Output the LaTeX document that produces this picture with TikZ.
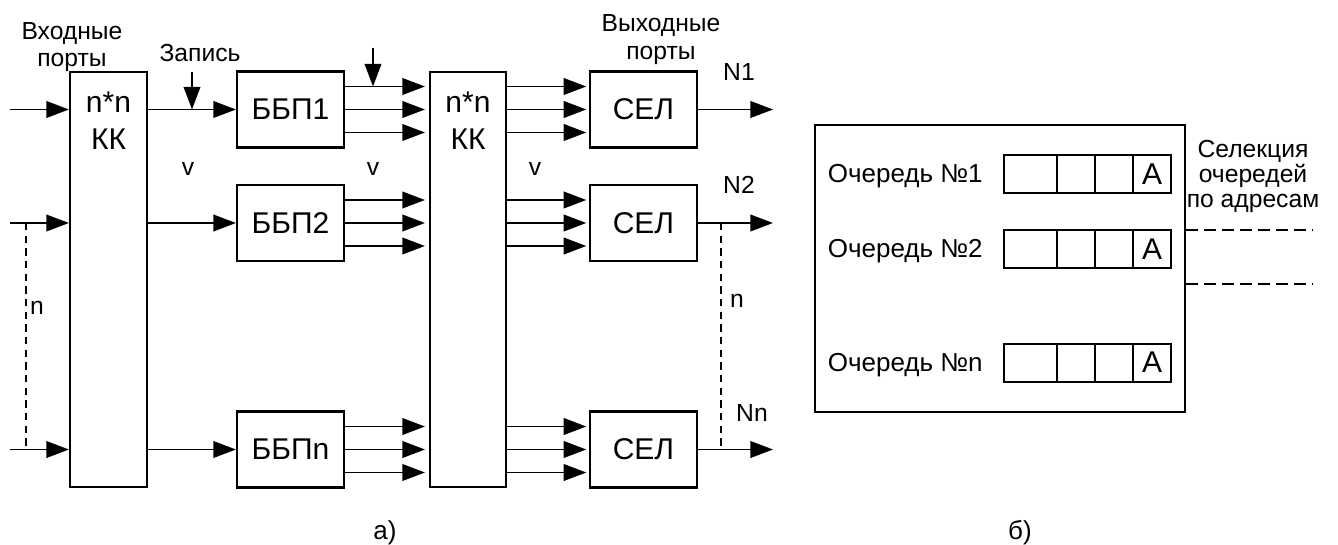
\documentclass[tikz,border=0pt]{standalone}
\usepackage{fontspec}
\setmainfont{Liberation Sans}
\usetikzlibrary{arrows.meta}
\begin{document}
\begin{tikzpicture}[x=0.75pt,y=-0.75pt,
  box/.style={draw, line width=1.6pt, inner sep=0pt, font=\fontsize{22.5}{27}\selectfont},
  arr/.style={line width=1.4pt, -{Triangle[length=17pt,width=12.5pt]}},
  lbl/.style={font=\fontsize{18.5}{22}\selectfont, inner sep=0pt, anchor=base},
  qlbl/.style={font=\fontsize{19.5}{22}\selectfont, inner sep=0pt, anchor=base east},
  big/.style={font=\fontsize{22.5}{27}\selectfont, inner sep=0pt, anchor=base},
  capt/.style={font=\fontsize{19.5}{23}\selectfont, inner sep=0pt, anchor=base},
  dshv/.style={line width=1.4pt, dash pattern=on 5.5pt off 4pt},
  dshh/.style={line width=1.4pt, dash pattern=on 9pt off 4.5pt},
  cell/.style={draw, line width=1.5pt, minimum height=28.5pt, minimum width=28.5pt,
    inner sep=0pt, outer sep=0pt, anchor=west, font=\fontsize{22.5}{27}\selectfont}]
\useasboundingbox (0,0) rectangle (1338,545);

% ---------- part a) ----------
\node[box, minimum width=57.75pt, minimum height=311.25pt] (kk1) at (108.5,279.5) {};
\node[box, minimum width=57pt, minimum height=311.25pt] (kk2) at (468,279.5) {};
\node[big] (kk1a) at (108.5,113) {n*n};
\node[big] (kk1b) at (108.5,150) {КК};
\node[big] (kk2a) at (468,113) {n*n};
\node[big] (kk2b) at (468,150) {КК};

\node[box, minimum width=80.25pt, minimum height=57pt] (bbp1) at (290.5,109.5) {ББП1};
\node[box, minimum width=80.25pt, minimum height=57pt] (bbp2) at (290.5,223) {ББП2};
\node[box, minimum width=80.25pt, minimum height=57pt] (bbpn) at (290.5,449.5) {ББПn};

\node[box, minimum width=80.25pt, minimum height=57pt] (sel1) at (643.5,109.5) {СЕЛ};
\node[box, minimum width=80.25pt, minimum height=57pt] (sel2) at (643.5,223) {СЕЛ};
\node[box, minimum width=80.25pt, minimum height=57pt] (seln) at (643.5,449.5) {СЕЛ};

% inputs
\coordinate (in1) at (10,109.5);
\coordinate (in2) at (10,223);
\coordinate (inn) at (10,449.5);
\draw[arr] (in1) -- (in1 -| kk1.west);
\draw[arr] (in2) -- (in2 -| kk1.west);
\draw[arr] (inn) -- (inn -| kk1.west);
\coordinate (dl1) at (26,223);
\coordinate (dl2) at (26,449.5);
\draw[dshv] (dl1) -- (dl2);

% KK1 -> BBP
\draw[arr] (bbp1.west -| kk1.east) -- (bbp1.west);
\draw[arr] (bbp2.west -| kk1.east) -- (bbp2.west);
\draw[arr] (bbpn.west -| kk1.east) -- (bbpn.west);

% BBP -> KK2 and KK2 -> SEL
\foreach \r in {bbp1,bbp2,bbpn}{
  \foreach \d in {17.25pt,0pt,-17.25pt}{
    \draw[arr, shorten >=3pt] ([yshift=\d]\r.east) -- ([yshift=\d]\r.east -| kk2.west);
  }
}
\foreach \r in {sel1,sel2,seln}{
  \foreach \d in {17.25pt,0pt,-17.25pt}{
    \draw[arr, shorten >=2pt] ([yshift=\d]\r.west -| kk2.east) -- ([yshift=\d]\r.west);
  }
}

% write arrows
\coordinate (w1) at (192,72);
\draw[arr] (w1) -- (w1 |- bbp1.west);
\coordinate (b1t) at ([yshift=17.25pt]bbp1.east);
\coordinate (w2) at (373,48);
\draw[arr] (w2) -- (w2 |- b1t);

% outputs
\coordinate (o1) at (773,109.5);
\coordinate (o2) at (773,223);
\coordinate (on) at (773,449.5);
\draw[arr] (sel1.east) -- (o1);
\draw[arr] (sel2.east) -- (o2);
\draw[arr] (seln.east) -- (on);
\coordinate (dr1) at (721,223);
\coordinate (dr2) at (721,449.5);
\draw[dshv] (dr1) -- (dr2);

% labels
\node[lbl] (t1) at (72,40) {Входные};
\node[lbl] (t2) at (72,67) {порты};
\node[lbl] (t3) at (200,62) {Запись};
\node[lbl] (t4) at (661,32) {Выходные};
\node[lbl] (t5) at (661,60) {порты};
\node[lbl] (n1) at (739,81) {N1};
\node[lbl] (n2) at (739,194) {N2};
\node[lbl] (nn) at (752,421) {Nn};
\node[lbl] (v1) at (188,176) {v};
\node[lbl] (v2) at (373,176) {v};
\node[lbl] (v3) at (535,176) {v};
\node[lbl] (nl) at (37,315) {n};
\node[lbl] (nr) at (737,307) {n};
\node[capt] (ca) at (385,539) {а)};

% ---------- part b) ----------
\node[draw, line width=1.6pt, minimum width=277.5pt, minimum height=215.25pt, inner sep=0pt] (bb) at (1000,268.5) {};

\foreach \row/\y/\t in {1/174/1, 2/249/2, 3/362.5/n}{
  \node[cell, minimum width=39.75pt] (q\row a) at (1004,\y) {};
  \node[cell] (q\row b) at (q\row a.east) {};
  \node[cell] (q\row c) at (q\row b.east) {};
  \node[cell] (q\row d) at (q\row c.east) {А};
  \node[qlbl] (ql\row) at (983,\y+8.5) {Очередь №\t};
}

\node[lbl] (s1) at (1253,158) {Селекция};
\node[lbl] (s2) at (1253,183) {очередей};
\node[lbl] (s3) at (1253,208) {по адресам};
\coordinate (r1) at (1313,230);
\coordinate (r2) at (1313,284);
\draw[dshh] (r1 -| bb.east) -- (r1);
\draw[dshh] (r2 -| bb.east) -- (r2);

\node[capt] (cb) at (1020,539) {б)};
\end{tikzpicture}
\end{document}
